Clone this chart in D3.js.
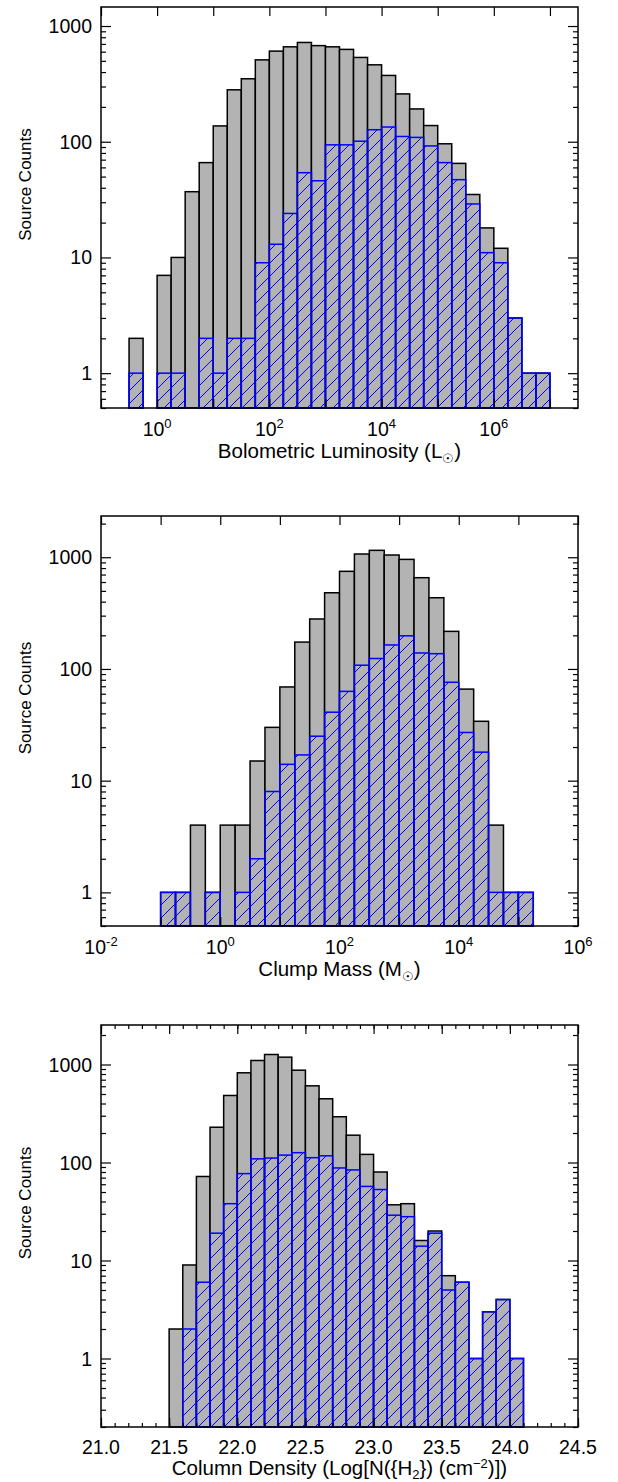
<!DOCTYPE html>
<html>
<head>
<meta charset="utf-8">
<script src="https://cdn.jsdelivr.net/npm/d3@7"></script>
<style>
  body { margin: 0; background: #fff; }
  svg { display: block; font-family: 'Liberation Sans', Arial, Helvetica, sans-serif; }
</style>
</head>
<body>
<div id="container"></div>
<script>
//### DATA ###

//>>> Bolometric luminosity: log10 bins of 0.25 dex starting at 10^-0.5
const lumBinStart = -0.5;
const lumBinWidth = 0.25;
const lumAll = [ 2, 0, 7, 10, 37, 66, 137, 281, 350, 510, 607, 661, 721, 677, 661, 628, 535, 462, 374, 259, 192, 138, 96, 65, 35, 18, 12, 3, 1, 1 ];
const lumSel = [ 1, 0, 1, 1, 0, 2, 1, 2, 2, 9, 13, 24, 54, 46, 94, 94, 101, 127, 134, 111, 109, 92, 66, 47, 29, 11, 9, 3, 1, 1 ];

//>>> Clump mass: log10 bins of 0.25 dex starting at 10^-1
const massBinStart = -1.0;
const massBinWidth = 0.25;
const massAll = [ 1, 1, 4, 1, 4, 4, 15, 30, 69, 174, 280, 481, 748, 1069, 1153, 1047, 957, 656, 434, 217, 66, 34, 4, 1, 1 ];
const massSel = [ 1, 1, 0, 1, 0, 1, 2, 8, 14, 17, 25, 41, 63, 108, 124, 164, 198, 139, 137, 76, 27, 18, 1, 1, 1 ];

//>>> Column density: linear bins of 0.1 starting at 21.5
const colBinStart = 21.5;
const colBinWidth = 0.1;
const colAll = [ 2, 9, 72, 229, 483, 823, 1099, 1265, 1188, 875, 606, 447, 293, 190, 121, 80, 37, 38, 16, 20, 7, 6, 1, 3, 4, 1 ];
const colSel = [ 0, 2, 6, 19, 38, 77, 109, 111, 119, 126, 112, 117, 88, 84, 57, 53, 29, 28, 14, 19, 5, 6, 1, 3, 4, 1 ];

//>>> Axis ranges and tick labels
const lumXDomain = [ 1e-1, Math.pow( 10, 7.5 ) ];
const massXDomain = [ 1e-2, 1e6 ];
const colXDomain = [ 21.0, 24.5 ];
const lumYDomain = [ 0.5, 1460 ];
const massYDomain = [ 0.5, 2340 ];
const colYDomain = [ 0.2, 2530 ];
const yTickLabels = [ 1, 10, 100, 1000 ];
const lumXLabels = [ 0, 2, 4, 6 ];          // exponents
const massXLabels = [ -2, 0, 2, 4, 6 ];     // exponents
const colXLabels = [ 21.0, 21.5, 22.0, 22.5, 23.0, 23.5, 24.0, 24.5 ];


//### LAYOUT ###
const width = 618;
const height = 1482;
const plotLeft = 101;
const plotRight = 578;
const grey = '#b3b3b3';
const blue = '#0000ff';
const tickFont = 19.5;
const supFont = 13;
const titleFont = 20.5;
const yTitleFont = 17;

const svg = d3.select( '#container' )
  .append( 'svg' )
  .attr( 'width', width )
  .attr( 'height', height );

//>>> Hatch pattern for the selected sample
svg.append( 'defs' )
  .append( 'pattern' )
  .attr( 'id', 'hatch' )
  .attr( 'patternUnits', 'userSpaceOnUse' )
  .attr( 'width', 13 )
  .attr( 'height', 13 )
  .append( 'path' )
  .attr( 'd', 'M-1,14 L14,-1 M-7.5,6.5 L6.5,-7.5 M6.5,20.5 L20.5,6.5' )
  .attr( 'stroke', blue )
  .attr( 'stroke-width', 1 );


//### DRAW ONE PANEL ###
function drawPanel ( p ) {
  const g = svg.append( 'g' );

  //_____ SCALES _____
  const xScale = ( p.xLog ? d3.scaleLog() : d3.scaleLinear() )
    .domain( p.xDomain )
    .range( [ plotLeft, plotRight ] );
  const yScale = d3.scaleLog()
    .domain( p.yDomain )
    .range( [ p.bottom, p.top ] );

  //--- bin edges in data units
  const edge = v => p.xLog ? Math.pow( 10, v ) : v;
  const bins = p.all.map( ( c, i ) => ( {
    lo: edge( p.binStart + i * p.binWidth ),
    hi: edge( p.binStart + ( i + 1 ) * p.binWidth ),
    all: c,
    sel: p.sel[ i ]
  } ) );

  //_____ BARS _____
  g.selectAll( '.bar-all' )
    .data( bins.filter( d => d.all > 0 ) )
    .enter().append( 'rect' )
    .attr( 'class', 'bar-all' )
    .attr( 'x', d => xScale( d.lo ) )
    .attr( 'y', d => yScale( d.all ) )
    .attr( 'width', d => xScale( d.hi ) - xScale( d.lo ) )
    .attr( 'height', d => p.bottom - yScale( d.all ) )
    .attr( 'fill', grey )
    .attr( 'stroke', '#000' )
    .attr( 'stroke-width', 1.5 );

  g.selectAll( '.bar-sel' )
    .data( bins.filter( d => d.sel > 0 ) )
    .enter().append( 'rect' )
    .attr( 'class', 'bar-sel' )
    .attr( 'x', d => xScale( d.lo ) )
    .attr( 'y', d => yScale( d.sel ) )
    .attr( 'width', d => xScale( d.hi ) - xScale( d.lo ) )
    .attr( 'height', d => p.bottom - yScale( d.sel ) )
    .attr( 'fill', 'url(#hatch)' )
    .attr( 'stroke', blue )
    .attr( 'stroke-width', 1.5 );

  //_____ TICKS (inward, mirrored on all four sides) _____
  const yAll = yScale.ticks();
  const isDecade = t => Math.abs( Math.log10( t ) - Math.round( Math.log10( t ) ) ) < 1e-6;
  const yMajor = yAll.filter( isDecade );
  const yMinor = yAll.filter( t => !isDecade( t ) );

  let xMajor, xMinor;
  if ( p.xLog ) {
    const lo = Math.ceil( Math.log10( p.xDomain[ 0 ] ) );
    const hi = Math.floor( Math.log10( p.xDomain[ 1 ] ) );
    xMajor = d3.range( lo, hi + 1 ).map( e => Math.pow( 10, e ) );
    xMinor = [];
  } else {
    xMajor = d3.range( p.xDomain[ 0 ], p.xDomain[ 1 ] + 0.01, 0.5 );
    xMinor = d3.range( p.xDomain[ 0 ], p.xDomain[ 1 ] + 0.01, 0.1 );
  }

  const addAxis = ( axis, tx, ty ) => {
    g.append( 'g' )
      .attr( 'transform', `translate( ${tx}, ${ty} )` )
      .call( axis )
      .call( a => a.select( '.domain' ).remove() )
      .call( a => a.selectAll( 'line' ).attr( 'stroke', '#000' ).attr( 'stroke-width', 1.2 ) );
  };

  addAxis( d3.axisLeft( yScale ).tickValues( yMajor ).tickSize( -10 ).tickFormat( '' ), plotLeft, 0 );
  addAxis( d3.axisLeft( yScale ).tickValues( yMinor ).tickSize( -5 ).tickFormat( '' ), plotLeft, 0 );
  addAxis( d3.axisRight( yScale ).tickValues( yMajor ).tickSize( -10 ).tickFormat( '' ), plotRight, 0 );
  addAxis( d3.axisRight( yScale ).tickValues( yMinor ).tickSize( -5 ).tickFormat( '' ), plotRight, 0 );
  addAxis( d3.axisBottom( xScale ).tickValues( xMajor ).tickSize( -9 ).tickFormat( '' ), 0, p.bottom );
  addAxis( d3.axisTop( xScale ).tickValues( xMajor ).tickSize( -9 ).tickFormat( '' ), 0, p.top );
  if ( xMinor.length ) {
    addAxis( d3.axisBottom( xScale ).tickValues( xMinor ).tickSize( -4 ).tickFormat( '' ), 0, p.bottom );
    addAxis( d3.axisTop( xScale ).tickValues( xMinor ).tickSize( -4 ).tickFormat( '' ), 0, p.top );
  }

  //_____ FRAME _____
  g.append( 'rect' )
    .attr( 'x', plotLeft )
    .attr( 'y', p.top )
    .attr( 'width', plotRight - plotLeft )
    .attr( 'height', p.bottom - p.top )
    .attr( 'fill', 'none' )
    .attr( 'stroke', '#000' )
    .attr( 'stroke-width', 1.5 );

  //_____ TICK LABELS _____
  g.selectAll( '.ylab' )
    .data( yTickLabels )
    .enter().append( 'text' )
    .attr( 'class', 'ylab' )
    .attr( 'x', plotLeft - 9 )
    .attr( 'y', d => yScale( d ) )
    .attr( 'dy', '0.36em' )
    .attr( 'text-anchor', 'end' )
    .style( 'font-size', tickFont + 'px' )
    .text( d => d );

  if ( p.xLog ) {
    const lab = g.selectAll( '.xlab' )
      .data( p.xLabels )
      .enter().append( 'text' )
      .attr( 'class', 'xlab' )
      .attr( 'x', d => xScale( Math.pow( 10, d ) ) )
      .attr( 'y', p.bottom + 28 )
      .attr( 'text-anchor', 'middle' )
      .style( 'font-size', tickFont + 'px' );
    lab.append( 'tspan' ).text( '10' );
    lab.append( 'tspan' )
      .attr( 'dy', -8 )
      .style( 'font-size', supFont + 'px' )
      .text( d => d < 0 ? '-' + Math.abs( d ) : d );
  } else {
    g.selectAll( '.xlab' )
      .data( p.xLabels )
      .enter().append( 'text' )
      .attr( 'class', 'xlab' )
      .attr( 'x', d => xScale( d ) )
      .attr( 'y', p.bottom + 27 )
      .attr( 'text-anchor', 'middle' )
      .style( 'font-size', tickFont + 'px' )
      .text( d => d.toFixed( 1 ) );
  }

  //_____ AXIS TITLES _____
  //--- each part: text, vertical shift (dy) and whether it is a small sub/superscript
  const xt = g.append( 'text' )
    .attr( 'x', ( plotLeft + plotRight ) / 2 )
    .attr( 'y', p.bottom + p.titleOffset )
    .attr( 'text-anchor', 'middle' )
    .style( 'font-size', titleFont + 'px' );
  p.title.forEach( part => {
    const t = xt.append( 'tspan' ).text( part.t );
    if ( part.dy ) t.attr( 'dy', part.dy );
    if ( part.small ) t.style( 'font-size', supFont + 'px' );
  } );

  svg.append( 'text' )
    .attr( 'transform', `translate( 31, ${( p.top + p.bottom ) / 2 - 23} ) rotate( -90 )` )
    .attr( 'text-anchor', 'middle' )
    .style( 'font-size', yTitleFont + 'px' )
    .text( 'Source Counts' );
}


//### THE THREE PANELS ###
drawPanel( {
  top: 7, bottom: 408, xLog: true, titleOffset: 50,
  xDomain: lumXDomain, yDomain: lumYDomain, xLabels: lumXLabels,
  binStart: lumBinStart, binWidth: lumBinWidth, all: lumAll, sel: lumSel,
  title: [ { t: 'Bolometric Luminosity (L' }, { t: '\u2609', dy: 5, small: true }, { t: ')', dy: -5 } ]
} );

drawPanel( {
  top: 516, bottom: 926, xLog: true, titleOffset: 50,
  xDomain: massXDomain, yDomain: massYDomain, xLabels: massXLabels,
  binStart: massBinStart, binWidth: massBinWidth, all: massAll, sel: massSel,
  title: [ { t: 'Clump Mass (M' }, { t: '\u2609', dy: 5, small: true }, { t: ')', dy: -5 } ]
} );

drawPanel( {
  top: 1025, bottom: 1427, xLog: false, titleOffset: 48,
  xDomain: colXDomain, yDomain: colYDomain, xLabels: colXLabels,
  binStart: colBinStart, binWidth: colBinWidth, all: colAll, sel: colSel,
  title: [ { t: 'Column Density (Log[N({H' }, { t: '2', dy: 4, small: true }, { t: '}) (cm', dy: -4 },
           { t: '\u22122', dy: -7, small: true }, { t: ')])', dy: 7 } ]
} );
</script>
</body>
</html>
